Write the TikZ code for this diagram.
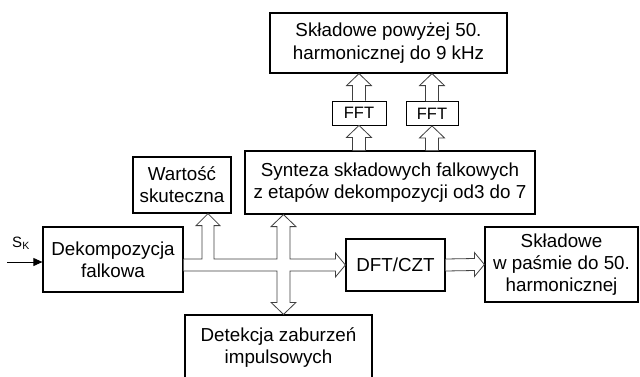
\documentclass[tikz,border=0pt]{standalone}
\usepackage{fontspec}
\setmainfont{Liberation Sans}
\usetikzlibrary{calc, arrows.meta}

\newcommand{\busup}[2]{\draw[bus] ($(#1)+(-6.5,0)$) -- ($(#2)+(-6.5,12)$) -- ($(#2)+(-12.5,12)$) -- (#2) -- ($(#2)+(12.5,12)$) -- ($(#2)+(6.5,12)$) -- ($(#1)+(6.5,0)$);}

\begin{document}
\begin{tikzpicture}[x=1pt, y=-1pt,
    box/.style={draw, line width=1.2pt, align=center, inner sep=0pt, font=\fontsize{18.8}{22.3}\selectfont},
    fftbox/.style={draw, line width=0.8pt, inner sep=0pt, minimum height=24pt, font=\fontsize{16.5}{19}\selectfont},
    bus/.style={draw=black!75, line width=0.8pt, fill=white}]
  \useasboundingbox (0,0) rectangle (640,376);
  \clip (0,0) rectangle (640,376);

  \node[box, minimum width=140pt, minimum height=65pt] (dek) at (113,259.5) {Dekompozycja\\falkowa};
  \node[box, minimum width=98pt, minimum height=56pt] (wart) at (182,185) {Wartość\\skuteczna};
  \node[box, minimum width=290pt, minimum height=63pt] (synt) at (390,182.5) {Synteza składowych falkowych\\z etapów dekompozycji od3 do 7};
  \node[box, minimum width=237pt, minimum height=60pt] (skl) at (388.5,43) {Składowe powyżej 50.\\harmonicznej do 9 kHz};
  \node[fftbox, minimum width=54pt] (fft1) at (359,113) {FFT};
  \node[fftbox, minimum width=52pt] (fft2) at (432,113.5) {FFT};
  \node[box, minimum width=99pt, minimum height=52pt] (dft) at (395.5,265) {DFT/CZT};
  \node[box, minimum width=153pt, minimum height=75pt] (skw) at (561.5,264.5) {Składowe\\w paśmie do 50.\\harmonicznej};
  \node[box, minimum width=187pt, minimum height=65pt] (det) at (278.5,347.5) {Detekcja zaburzeń\\impulsowych};

  \node[font=\fontsize{15}{18}\selectfont, inner sep=0pt] (sk) at (21,243) {S\textsubscript{K}};
  \coordinate (sin) at (7,262);
  \draw[line width=0.9pt, -{Triangle[length=9pt,width=8pt]}] (sin) -- (sin -| dek.west);

  \coordinate (b0) at (dek.east |- dft.west);
  \coordinate (wb) at (208,265);
  \coordinate (vb) at (283.5,265);
  \draw[bus] ($(b0)+(0,-6)$) -- ($(wb)+(-6,-6)$)
    -- ($(wb |- wart.south)+(-6,12)$) -- ($(wb |- wart.south)+(-12,12)$) -- (wb |- wart.south)
    -- ($(wb |- wart.south)+(12,12)$) -- ($(wb |- wart.south)+(6,12)$) -- ($(wb)+(6,-6)$)
    -- ($(vb)+(-6.5,-6)$)
    -- ($(vb |- synt.south)+(-6.5,12)$) -- ($(vb |- synt.south)+(-12.5,12)$) -- (vb |- synt.south)
    -- ($(vb |- synt.south)+(12.5,12)$) -- ($(vb |- synt.south)+(6.5,12)$) -- ($(vb)+(6.5,-6)$)
    -- ($(dft.west)+(-10,-6)$) -- ($(dft.west)+(-10,-12)$) -- (dft.west)
    -- ($(dft.west)+(-10,12)$) -- ($(dft.west)+(-10,6)$) -- ($(vb)+(6.5,6)$)
    -- ($(vb |- det.north)+(6.5,-12)$) -- ($(vb |- det.north)+(12.5,-12)$) -- (vb |- det.north)
    -- ($(vb |- det.north)+(-12.5,-12)$) -- ($(vb |- det.north)+(-6.5,-12)$) -- ($(vb)+(-6.5,6)$)
    -- ($(b0)+(0,6)$);

  \draw[bus] ($(dft.east)+(0,-6)$) -- ($(skw.west)+(-10,-6)$) -- ($(skw.west)+(-10,-12)$) -- (skw.west)
    -- ($(skw.west)+(-10,12)$) -- ($(skw.west)+(-10,6)$) -- ($(dft.east)+(0,6)$);

  \busup{fft1.south |- synt.north}{fft1.south}
  \busup{fft2.south |- synt.north}{fft2.south}
  \busup{fft1.north}{fft1.north |- skl.south}
  \busup{fft2.north}{fft2.north |- skl.south}
\end{tikzpicture}
\end{document}
